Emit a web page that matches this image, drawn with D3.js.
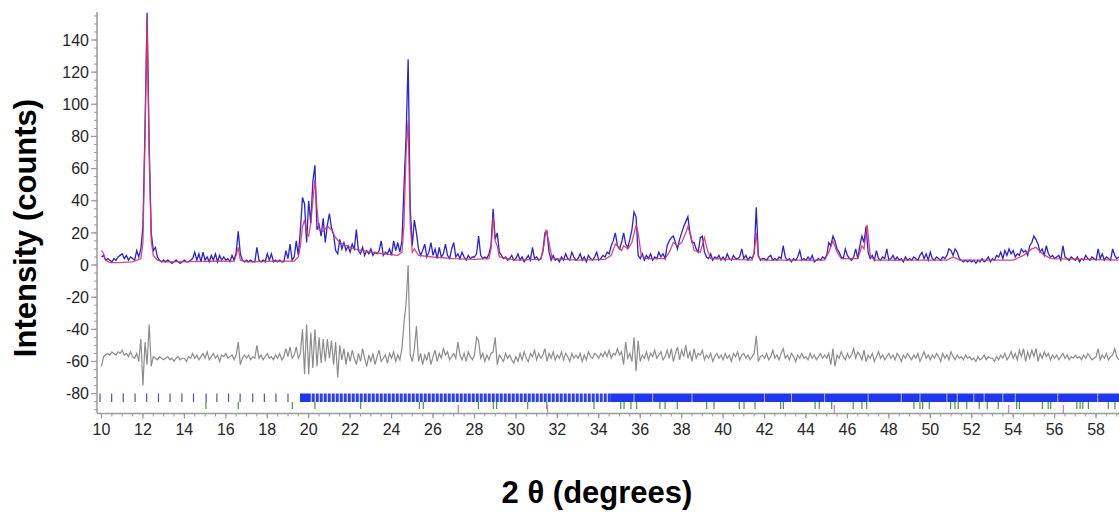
<!DOCTYPE html>
<html>
<head>
<meta charset="utf-8">
<script src="https://cdn.jsdelivr.net/npm/d3@7"></script>
<style>
  html, body { margin: 0; padding: 0; background: #fff; }
  svg { display: block; font-family: "Liberation Sans", Arial, sans-serif; }
</style>
</head>
<body>
<svg id="chart" width="1119" height="512"></svg>
<script>
// 2theta grid of the measured pattern (start, step)
var thetaStart = 10.0;
var thetaStep = 0.1;

// observed intensity, one row per degree (10.0 .. 59.1)
var observed = [
  5, 6, 3, 4, 3, 2, 4, 3, 5, 6,
  7, 4, 6, 3, 5, 4, 3, 9, 5, 10,
  24, 85, 157, 75, 20, 9, 11, 5, 3, 2,
  3, 2, 3, 2, 1, 2, 3, 2, 1, 2,
  3, 2, 2, 3, 4, 8, 3, 7, 2, 8,
  3, 5, 2, 6, 3, 7, 2, 6, 3, 5,
  3, 4, 2, 6, 3, 8, 21, 7, 3, 2,
  3, 2, 3, 2, 2, 11, 3, 2, 3, 2,
  7, 3, 7, 2, 3, 2, 3, 2, 2, 9,
  4, 13, 3, 5, 15, 6, 22, 42, 38, 14,
  40, 26, 52, 62, 22, 25, 18, 29, 14, 25,
  32, 23, 19, 9, 7, 16, 10, 14, 9, 12,
  8, 13, 10, 22, 9, 7, 11, 6, 9, 7,
  10, 6, 8, 7, 9, 15, 6, 8, 7, 10,
  6, 15, 9, 14, 8, 15, 49, 80, 128, 35,
  12, 28, 20, 10, 6, 9, 13, 5, 8, 14,
  6, 10, 4, 11, 5, 7, 13, 6, 4, 10,
  14, 5, 7, 4, 8, 5, 3, 6, 4, 5,
  5, 7, 18, 6, 4, 5, 4, 7, 12, 35,
  16, 20, 8, 6, 4, 5, 3, 4, 6, 3,
  4, 7, 3, 5, 2, 4, 6, 3, 11, 4,
  5, 3, 4, 8, 20, 21, 8, 3, 6, 3,
  4, 2, 5, 3, 7, 4, 3, 8, 5, 3,
  4, 7, 3, 5, 2, 6, 4, 3, 5, 8,
  3, 4, 6, 5, 8, 7, 12, 15, 20, 12,
  10, 14, 20, 13, 11, 16, 22, 33, 30, 6,
  4, 7, 3, 6, 4, 7, 3, 5, 4, 8,
  5, 7, 4, 12, 15, 17, 18, 14, 10, 16,
  20, 24, 27, 30, 20, 14, 14, 10, 8, 17,
  18, 8, 5, 4, 7, 3, 5, 4, 6, 3,
  5, 3, 7, 4, 3, 6, 4, 4, 5, 10,
  4, 6, 3, 5, 4, 7, 36, 6, 3, 4,
  4, 3, 5, 6, 3, 4, 3, 5, 4, 12,
  5, 3, 4, 2, 4, 3, 5, 9, 3, 4,
  3, 5, 3, 6, 2, 3, 4, 3, 5, 4,
  6, 14, 12, 18, 15, 10, 8, 5, 4, 10,
  6, 4, 3, 5, 10, 4, 12, 18, 14, 24,
  8, 4, 6, 3, 9, 4, 3, 5, 4, 10,
  3, 4, 6, 3, 5, 3, 4, 2, 5, 3,
  4, 3, 5, 4, 3, 6, 8, 4, 7, 3,
  8, 4, 3, 5, 4, 3, 5, 4, 6, 10,
  9, 6, 10, 8, 4, 3, 2, 3, 2, 3,
  2, 3, 1, 3, 2, 4, 2, 3, 5, 2,
  4, 3, 6, 5, 8, 4, 9, 6, 10, 7,
  9, 5, 7, 6, 10, 8, 9, 6, 12, 14,
  18, 16, 13, 8, 10, 6, 12, 7, 5, 6,
  4, 5, 6, 3, 12, 5, 4, 3, 5, 4,
  3, 5, 2, 4, 3, 6, 4, 3, 5, 4,
  3, 10, 4, 7, 3, 5, 4, 3, 10, 6,
  4, 5
];

// difference curve (obs - calc, plotted with offset), same grid
var difference = [
  -63, -57, -56, -55, -56, -54, -55, -56, -54, -55,
  -53, -56, -55, -57, -54, -57, -58, -55, -60, -46,
  -75, -48, -62, -37, -63, -57, -58, -59, -57, -58,
  -59, -58, -57, -59, -58, -60, -58, -57, -59, -58,
  -58, -60, -57, -58, -55, -58, -56, -59, -57, -55,
  -58, -54, -59, -57, -55, -58, -56, -60, -56, -57,
  -55, -58, -57, -56, -59, -56, -48, -62, -58, -56,
  -58, -56, -59, -57, -58, -50, -58, -56, -59, -57,
  -55, -58, -57, -59, -56, -58, -55, -59, -57, -52,
  -57, -51, -58, -56, -51, -58, -55, -40, -68, -37,
  -68, -42, -64, -40, -63, -45, -61, -46, -60, -46,
  -58, -47, -62, -48, -70, -50, -59, -52, -62, -54,
  -60, -53, -58, -62, -55, -60, -52, -58, -63, -56,
  -60, -55, -62, -57, -53, -60, -58, -56, -61, -55,
  -58, -54, -60, -56, -59, -52, -36, -24, 0, -56,
  -60, -52, -38, -60, -55, -62, -56, -59, -54, -62,
  -57, -53, -60, -55, -58, -52, -56, -54, -59, -57,
  -55, -58, -48, -56, -59, -55, -60, -54, -57, -59,
  -56, -45, -47, -58, -55, -60, -56, -59, -55, -54,
  -45, -62, -56, -58, -60, -55, -58, -56, -59, -61,
  -57, -60, -55, -59, -54, -58, -60, -55, -57, -53,
  -59, -55, -58, -56, -52, -60, -55, -58, -54, -59,
  -56, -58, -54, -59, -55, -57, -60, -55, -58, -56,
  -58, -55, -60, -56, -59, -54, -57, -58, -55, -56,
  -58, -55, -57, -54, -57, -53, -58, -55, -56, -52,
  -56, -54, -62, -48, -58, -55, -60, -45, -66, -47,
  -60, -56, -58, -54, -59, -55, -57, -53, -58, -56,
  -54, -59, -57, -53, -58, -52, -60, -55, -51, -59,
  -53, -57, -50, -58, -54, -60, -52, -58, -55, -56,
  -53, -59, -56, -58, -55, -60, -57, -55, -58, -56,
  -59, -55, -58, -56, -60, -55, -57, -54, -59, -56,
  -55, -58, -56, -59, -57, -55, -44, -60, -57, -56,
  -58, -55, -59, -57, -53, -58, -56, -59, -55, -52,
  -58, -56, -59, -55, -57, -60, -56, -58, -55, -58,
  -57, -59, -55, -58, -56, -59, -57, -55, -58, -56,
  -58, -55, -62, -52, -63, -56, -58, -54, -57, -59,
  -55, -58, -56, -52, -58, -54, -56, -59, -53, -60,
  -56, -58, -55, -60, -57, -54, -58, -56, -59, -57,
  -55, -58, -56, -59, -55, -57, -60, -56, -58, -55,
  -57, -59, -56, -58, -55, -60, -57, -54, -58, -56,
  -59, -56, -58, -55, -57, -60, -55, -58, -56, -59,
  -54, -57, -59, -56, -58, -57, -59, -56, -58, -57,
  -59, -58, -60, -57, -59, -58, -56, -59, -57, -58,
  -58, -60, -57, -59, -56, -58, -55, -59, -57, -54,
  -58, -55, -59, -53, -57, -52, -60, -54, -58, -53,
  -57, -52, -60, -55, -58, -54, -57, -55, -59, -56,
  -58, -56, -59, -57, -55, -58, -56, -59, -57, -58,
  -56, -58, -57, -59, -56, -58, -55, -57, -59, -58,
  -57, -52, -59, -56, -58, -55, -59, -57, -56, -52,
  -57, -59
];

// calculated profile, read as (2theta, intensity) points
var calcTheta = [10.0, 10.1, 10.2, 10.4, 10.8, 11.5, 11.9, 12.0, 12.1, 12.2, 12.3, 12.4, 12.5, 12.7, 13.0,
  16.4, 16.5, 16.6, 16.7, 17.0, 19.3, 19.5, 19.6, 19.7, 19.8, 19.9, 20.0, 20.1, 20.2, 20.3, 20.4, 20.5,
  20.7, 20.9, 21.1, 21.3, 21.5, 21.8, 22.2, 22.6, 23.0, 23.6, 24.3, 24.5, 24.6, 24.7, 24.8, 24.9, 25.0,
  25.1, 25.3, 26.0, 27.0, 28.0, 28.7, 28.8, 28.9, 29.0, 29.1, 29.2, 30.0, 31.2, 31.35, 31.45, 31.6, 31.75,
  33.0, 34.3, 34.6, 34.8, 34.9, 35.1, 35.2, 35.4, 35.6, 35.8, 35.9, 36.05, 36.3, 37.2, 37.4, 37.6, 37.8,
  38.0, 38.2, 38.3, 38.45, 38.6, 38.9, 39.1, 39.25, 39.4, 41.4, 41.5, 41.6, 41.7, 41.9, 44.9, 45.1, 45.3,
  45.5, 45.7, 46.5, 46.7, 46.8, 46.95, 47.1, 47.3, 50.8, 51.1, 51.4, 54.0, 54.5, 54.9, 55.1, 55.4, 55.8, 59.1];
var calcValue = [9, 7, 3, 1.5, 1.5, 2, 4, 14, 80, 153, 70, 15, 6, 3, 2,
  2.5, 6, 11, 3, 2, 2.5, 5, 12, 24, 28, 20, 18, 26, 40, 53, 35, 22,
  21, 24, 22, 17, 14, 12, 10, 9, 8, 7, 6, 8, 25, 70, 90, 25, 8,
  10, 6, 5, 4, 3.5, 4, 10, 30, 15, 12, 5, 3, 3.5, 12, 22, 14, 4,
  3, 3.5, 6, 13, 12, 9, 12, 10, 14, 25, 20, 6, 4, 4, 8, 14, 12,
  14, 20, 24, 18, 9, 8, 17, 9, 4, 3, 8, 20, 5, 3, 3, 8, 15,
  8, 4, 4, 12, 10, 25, 6, 3, 3, 5, 3, 3, 6, 10, 11, 7, 4, 3];

// reflection markers
var phase1Sparse = [9.93, 10.49, 11.05, 11.62, 12.18, 12.75, 13.31, 13.88, 14.44, 15.05, 15.57,
  16.13, 16.69, 17.3, 17.86, 18.42, 19.0];
var bandFrom = [19.58, 20.1, 34.55];
var bandTo = [20.1, 34.55, 59.2];
var bandKind = ["solid", "striped", "solid"];
var bandGaps = [35.7, 36.6, 38.5, 42.0, 43.3, 44.9, 47.0, 48.6, 49.5, 50.8, 51.3, 52.1, 52.6, 53.5,
  54.1, 56.15, 58.08];
var phase2Ticks = [15.04, 16.6, 19.21, 20.3, 22.51, 25.34, 25.53, 28.19, 28.91, 29.07, 30.57, 31.49,
  33.77, 35.06, 35.22, 35.55, 35.83, 36.95, 37.2, 37.79, 39.21, 39.56, 40.78, 41.01, 41.54, 42.78,
  42.91, 44.44, 44.64, 45.24, 46.28, 46.7, 46.93, 49.21, 49.5, 49.63, 49.95, 50.98, 51.19, 51.35,
  51.76, 52.36, 52.75, 53.28, 54.17, 54.3, 55.41, 55.69, 55.81, 57.07, 57.23, 57.36, 57.63, 58.59, 58.91];
var phase3Ticks = [27.22, 31.53, 45.37, 53.78, 56.42];

// axis ticks
var xTickLabels = [10, 12, 14, 16, 18, 20, 22, 24, 26, 28, 30, 32, 34, 36, 38, 40, 42, 44, 46, 48, 50, 52, 54, 56, 58];
var yTickLabels = [-80, -60, -40, -20, 0, 20, 40, 60, 80, 100, 120, 140];

var svg = d3.select("#chart");

var x = d3.scaleLinear().domain([10, 58]).range([101.5, 1096.06]);
var y = d3.scaleLinear().domain([-80, 140]).range([393.6, 40]);

var axisX = 97, axisY = 413.5, plotRight = 1119, plotTop = 12;

var defs = svg.append("defs");
defs.append("clipPath").attr("id", "plotclip").append("rect")
  .attr("x", axisX).attr("y", 0).attr("width", plotRight - axisX).attr("height", axisY);
var pat = defs.append("pattern").attr("id", "stripes")
  .attr("patternUnits", "userSpaceOnUse").attr("width", 4).attr("height", 10);
pat.append("rect").attr("width", 4).attr("height", 10).attr("fill", "#c3cbf7");
pat.append("rect").attr("width", 2.6).attr("height", 10).attr("fill", "#2a3ff0");

var thetas = observed.map(function(d, i) { return thetaStart + i * thetaStep; });

var plot = svg.append("g").attr("clip-path", "url(#plotclip)");

// reflection markers
var bandTop = 393.5, bandH = 8.5;
plot.selectAll("line.p1").data(phase1Sparse).enter().append("line")
  .attr("x1", function(d) { return x(d); }).attr("x2", function(d) { return x(d); })
  .attr("y1", bandTop).attr("y2", bandTop + bandH)
  .attr("stroke", "#4b5894").attr("stroke-width", 1.2);

plot.selectAll("rect.band").data(bandFrom).enter().append("rect")
  .attr("x", function(d) { return x(d); })
  .attr("width", function(d, i) { return x(bandTo[i]) - x(d); })
  .attr("y", bandTop).attr("height", bandH)
  .attr("fill", function(d, i) { return bandKind[i] === "striped" ? "url(#stripes)" : "#1f36f2"; });

plot.selectAll("line.gap").data(bandGaps).enter().append("line")
  .attr("x1", function(d) { return x(d); }).attr("x2", function(d) { return x(d); })
  .attr("y1", bandTop).attr("y2", bandTop + bandH)
  .attr("stroke", "#b4c0fa").attr("stroke-width", 1);

plot.selectAll("line.p2").data(phase2Ticks).enter().append("line")
  .attr("x1", function(d) { return x(d); }).attr("x2", function(d) { return x(d); })
  .attr("y1", bandTop + bandH).attr("y2", bandTop + bandH + 7)
  .attr("stroke", "#3c9a3c").attr("stroke-width", 1.2);

plot.selectAll("line.p3").data(phase3Ticks).enter().append("line")
  .attr("x1", function(d) { return x(d); }).attr("x2", function(d) { return x(d); })
  .attr("y1", 405).attr("y2", 413)
  .attr("stroke", "#d27ccb").attr("stroke-width", 1.3);

// curves
var line = d3.line()
  .x(function(d) { return x(d[0]); })
  .y(function(d) { return y(d[1]); });

plot.append("path")
  .datum(thetas.map(function(t, i) { return [t, difference[i]]; }))
  .attr("d", line).attr("fill", "none")
  .attr("stroke", "#8c8c8c").attr("stroke-width", 1.2);

plot.append("path")
  .datum(thetas.map(function(t, i) { return [t, observed[i]]; }))
  .attr("d", line).attr("fill", "none")
  .attr("stroke", "#2424d8").attr("stroke-width", 1.3);

plot.append("path")
  .datum(calcTheta.map(function(t, i) { return [t, calcValue[i]]; }))
  .attr("d", line).attr("fill", "none")
  .attr("stroke", "#e0306a").attr("stroke-width", 1.3).attr("stroke-opacity", 0.9);

// y axis
var yAxis = svg.append("g");
yAxis.append("line").attr("x1", axisX).attr("x2", axisX).attr("y1", plotTop).attr("y2", axisY)
  .attr("stroke", "#9a9a9a").attr("stroke-width", 1.5);
var yMinor = d3.range(-90, 160, 5);
yAxis.selectAll("line.ym").data(yMinor).enter().append("line")
  .attr("x1", axisX - 3).attr("x2", axisX)
  .attr("y1", function(d) { return y(d); }).attr("y2", function(d) { return y(d); })
  .attr("stroke", "#9a9a9a").attr("stroke-width", 1);
yAxis.selectAll("line.yt").data(yTickLabels).enter().append("line")
  .attr("x1", axisX - 6).attr("x2", axisX)
  .attr("y1", function(d) { return y(d); }).attr("y2", function(d) { return y(d); })
  .attr("stroke", "#9a9a9a").attr("stroke-width", 1.2);
yAxis.selectAll("text").data(yTickLabels).enter().append("text")
  .attr("x", axisX - 8).attr("y", function(d) { return y(d); })
  .attr("dy", "0.36em").attr("text-anchor", "end")
  .attr("font-size", 16).attr("fill", "#262626")
  .text(function(d) { return d; });

// x axis
var xAxis = svg.append("g");
xAxis.append("line").attr("x1", axisX).attr("x2", plotRight).attr("y1", axisY).attr("y2", axisY)
  .attr("stroke", "#9a9a9a").attr("stroke-width", 1.5);
var xMinor = d3.range(10, 59.5, 0.5);
xAxis.selectAll("line.xm").data(xMinor).enter().append("line")
  .attr("x1", function(d) { return x(d); }).attr("x2", function(d) { return x(d); })
  .attr("y1", axisY).attr("y2", axisY + 3)
  .attr("stroke", "#9a9a9a").attr("stroke-width", 1);
xAxis.selectAll("line.xt").data(xTickLabels).enter().append("line")
  .attr("x1", function(d) { return x(d); }).attr("x2", function(d) { return x(d); })
  .attr("y1", axisY).attr("y2", axisY + 5)
  .attr("stroke", "#9a9a9a").attr("stroke-width", 1.2);
xAxis.selectAll("text").data(xTickLabels).enter().append("text")
  .attr("x", function(d) { return x(d); }).attr("y", 435)
  .attr("text-anchor", "middle")
  .attr("font-size", 16).attr("fill", "#262626")
  .text(function(d) { return d; });

// titles
svg.append("text")
  .attr("transform", "translate(36,228) rotate(-90)")
  .attr("text-anchor", "middle")
  .attr("font-size", 31).attr("font-weight", "bold").attr("fill", "#000")
  .text("Intensity (counts)");

svg.append("text")
  .attr("x", 597).attr("y", 503)
  .attr("text-anchor", "middle")
  .attr("font-size", 31).attr("font-weight", "bold").attr("fill", "#000")
  .text("2 θ (degrees)");
</script>
</body>
</html>
